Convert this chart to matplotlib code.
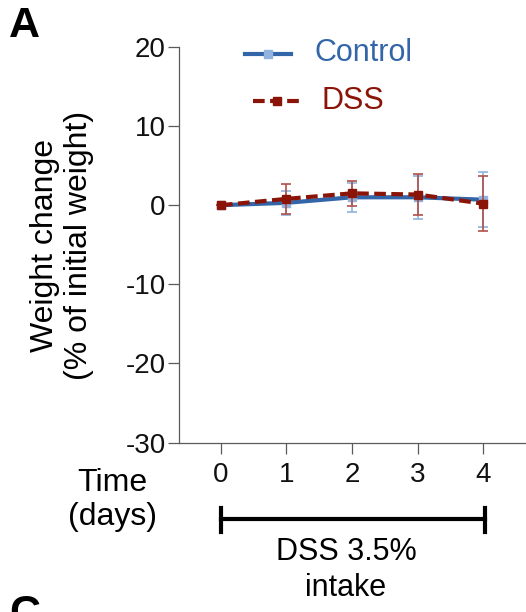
import matplotlib.pyplot as plt
from matplotlib.lines import Line2D

plt.rcParams['font.family'] = ['Liberation Sans', 'DejaVu Sans']

# weight change (% of initial weight) per day
days = [0, 1, 2, 3, 4]
control_mean = [0.0, 0.3, 1.0, 1.0, 0.7]
control_err = [0.0, 1.5, 1.8, 2.7, 3.5]
dss_mean = [0.0, 0.8, 1.5, 1.35, 0.2]
dss_err = [0.0, 1.9, 1.6, 2.6, 3.5]

yticks = [-30, -20, -10, 0, 10, 20]

blue = '#3366a8'
blue_light = '#8fb2de'
red = '#8b1408'
red_err = '#b0504a'
dash = (0, (2.8, 1.3))

W, H = 526, 612
fig = plt.figure(figsize=(W / 100, H / 100), dpi=100)
ax = fig.add_axes([179 / W, 1 - 442.5 / H, (W - 179) / W, 395.5 / H])

ax.errorbar(days, control_mean, yerr=control_err, color=blue, lw=3,
            marker='s', ms=6, mfc=blue_light, mec=blue_light,
            ecolor=blue_light, elinewidth=1.2, capsize=3.5, capthick=1.2,
            zorder=2)
ax.errorbar(days, dss_mean, yerr=dss_err, color=red, lw=3, ls=dash,
            marker='s', ms=6, mfc=red, mec=red,
            ecolor=red_err, elinewidth=1.2, capsize=3.5, capthick=1.2,
            zorder=3)

ax.set_xlim(-0.641, 4.656)
ax.set_ylim(-30, 20)
ax.set_yticks(yticks)
ax.set_yticklabels([str(t) for t in yticks])
ax.set_xticks(days)
for s in ['top', 'right']:
    ax.spines[s].set_visible(False)
for s in ['left', 'bottom']:
    ax.spines[s].set_linewidth(0.9)
    ax.spines[s].set_color('#5a5a5a')
ax.tick_params(axis='both', labelsize=20, width=0.9, length=8, color='#5a5a5a',
               labelcolor='#111111')
ax.tick_params(axis='y', pad=1.5)
ax.tick_params(axis='x', pad=6)

fig.text(62 / W, 1 - 245 / H, 'Weight change\n(% of initial weight)',
         fontsize=23, rotation=90, ha='center', va='center', linespacing=1.2)

# legend drawn by hand
ax.add_line(Line2D([0.366, 1.069], [19.1, 19.1], color=blue, lw=3,
                   clip_on=False))
ax.plot([0.718], [19.1], marker='s', ms=6, color=blue_light, clip_on=False)
ax.text(1.42, 19.2, 'Control', color=blue, fontsize=22, va='center')
ax.add_line(Line2D([0.489, 1.19], [13.15, 13.15], color=red, lw=3, ls=dash,
                   clip_on=False))
ax.plot([0.855], [13.15], marker='s', ms=6, color=red, clip_on=False)
ax.text(1.54, 13.2, 'DSS', color=red, fontsize=22, va='center')

# time label and treatment bracket below the axis
fig.text(112 / W, 1 - 500 / H, 'Time\n(days)', fontsize=23, ha='center',
         va='center', linespacing=1.2)
yb = 1 - 519 / H
fig.add_artist(Line2D([221 / W, 485 / W], [yb, yb], color='black', lw=3))
for xp in (221, 485):
    fig.add_artist(Line2D([xp / W, xp / W], [1 - 508 / H, 1 - 532 / H],
                          color='black', lw=3))
fig.text(346 / W, 1 - 570 / H, 'DSS 3.5%\nintake', fontsize=22,
         ha='center', va='center', linespacing=1.25)

fig.text(9 / W, 1 - 26 / H, 'A', fontsize=31, fontweight='bold', va='center')
fig.text(9 / W, 1 - 614 / H, 'C', fontsize=31, fontweight='bold', va='center')

fig.savefig('out.png', dpi=100)
